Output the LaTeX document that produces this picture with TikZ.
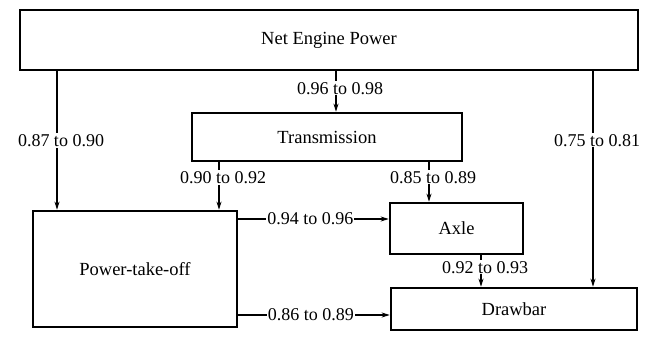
\documentclass[tikz,border=0pt]{standalone}
\usepackage{fontspec}
\setmainfont{Liberation Serif}
\usepackage{tikz}
\usetikzlibrary{arrows.meta,positioning}

\tikzset{
  block/.style={draw, line width=2.6pt, inner sep=0pt,
                font=\fontsize{18.5}{20}\selectfont},
  lbl/.style={fill=white, inner sep=1pt,
              font=\fontsize{18}{20}\selectfont},
  arr/.style={-{Stealth[length=8pt,width=5pt]}, line width=1.2pt}
}

\begin{document}
\begin{tikzpicture}[x=1pt, y=-1pt]
  \useasboundingbox (0,0) rectangle (649,337);

  % blocks
  \node[block, minimum width=618, minimum height=60] (nep)     at (329,40)    {Net Engine Power};
  \node[block, minimum width=270, minimum height=48] (trans)   at (327,137)   {Transmission};
  \node[block, minimum width=204, minimum height=116] (pto)    at (135,269)   {Power-take-off};
  \node[block, minimum width=133, minimum height=51] (axle)    at (456.5,228.5) {Axle};
  \node[block, minimum width=246, minimum height=42] (drawbar) at (514,309)   {Drawbar};

  % connector columns and rows
  \coordinate (c87) at (57,0);
  \coordinate (c96) at (336,0);
  \coordinate (c90) at (219,0);
  \coordinate (c85) at (429,0);
  \coordinate (c92) at (481,0);
  \coordinate (c75) at (593,0);
  \coordinate (r94) at (0,219);
  \coordinate (r86) at (0,315);

  % vertical flows
  \draw[arr] (nep.south -| c87) -- (pto.north -| c87)
    node[lbl, pos=0.5, xshift=4pt] {0.87 to 0.90};
  \draw[arr] (nep.south -| c96) -- (trans.north -| c96)
    node[lbl, pos=0.42, xshift=4pt] {0.96 to 0.98};
  \draw[arr] (nep.south -| c75) -- (drawbar.north -| c75)
    node[lbl, pos=0.32, xshift=4pt] {0.75 to 0.81};
  \draw[arr] (trans.south -| c90) -- (pto.north -| c90)
    node[lbl, pos=0.32, xshift=4pt] {0.90 to 0.92};
  \draw[arr] (trans.south -| c85) -- (axle.north -| c85)
    node[lbl, pos=0.38, xshift=4pt] {0.85 to 0.89};
  \draw[arr] (axle.south -| c92) -- (drawbar.north -| c92)
    node[lbl, pos=0.38, xshift=4pt] {0.92 to 0.93};

  % horizontal flows
  \draw[arr] (pto.east |- r94) -- (axle.west |- r94)
    node[lbl, pos=0.48] {0.94 to 0.96};
  \draw[arr] (pto.east |- r86) -- (drawbar.west |- r86)
    node[lbl, pos=0.48] {0.86 to 0.89};
\end{tikzpicture}
\end{document}
